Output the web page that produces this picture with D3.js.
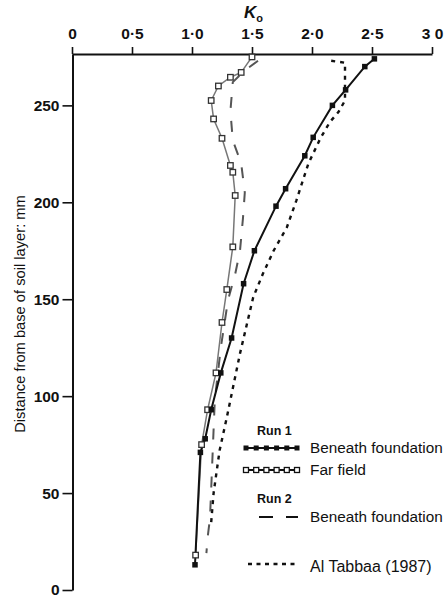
<!DOCTYPE html>
<html>
<head>
<meta charset="utf-8">
<script src="https://cdn.jsdelivr.net/npm/d3@7"></script>
<style>
  body { margin: 0; background: #fff; }
  svg { display: block; }
  text { font-family: "Liberation Sans", Arial, Helvetica, sans-serif; fill: #111; }
</style>
</head>
<body>
<svg id="chart" width="447" height="613"></svg>
<script>
// K0 axis (top) and depth axis (left)
const kTicks = [0, 0.5, 1, 1.5, 2, 2.5, 3];
const kTickLabels = ["0", "0·5", "1·0", "1·5", "2·0", "2·5", "3 0"];
const depthTicks = [0, 50, 100, 150, 200, 250];

// Run 1, beneath foundation
const run1BeneathK  = [2.52, 2.44, 2.28, 2.17, 2.01, 1.94, 1.78, 1.70, 1.52, 1.43, 1.33, 1.24, 1.16, 1.11, 1.07, 1.025];
const run1BeneathMm = [274, 270, 258, 250, 233.5, 224, 207, 198, 175, 158, 130, 112, 93, 78, 71, 13];

// Run 1, far field
const run1FarK  = [1.50, 1.41, 1.32, 1.22, 1.16, 1.18, 1.25, 1.32, 1.34, 1.36, 1.34, 1.29, 1.25, 1.20, 1.13, 1.08, 1.03];
const run1FarMm = [275, 267, 264.5, 260, 252.5, 243, 233, 219, 215.5, 203.5, 177, 155, 138, 112, 93, 75, 18];

// Run 2, beneath foundation
const run2BeneathK  = [1.55, 1.44, 1.34, 1.32, 1.34, 1.41, 1.44, 1.425, 1.40, 1.36, 1.30, 1.24, 1.19, 1.15, 1.13, 1.12];
const run2BeneathMm = [273, 268, 262, 247, 232, 220, 205, 192, 175, 163, 149.5, 125, 98, 37, 27, 19];

// Al Tabbaa (1987)
const alTabbaaK  = [2.16, 2.275, 2.275, 2.22, 2.15, 2.07, 1.97, 1.87, 1.79, 1.68, 1.59, 1.51, 1.40, 1.29, 1.23, 1.18, 1.16];
const alTabbaaMm = [273, 272, 252.5, 246.5, 241.5, 233, 220, 201, 187, 175, 163, 151, 122, 89, 72, 50, 35];

const svg = d3.select("#chart");
const x = d3.scaleLinear().domain([0, 3]).range([72, 432]);
const y = d3.scaleLinear().domain([0, 276.5]).range([590, 54]);

const pts = (ks, ms) => d3.zip(ks, ms).map(([k, mm]) => ({ k, mm }));
const line = d3.line().x(d => x(d.k)).y(d => y(d.mm));

// Axes
const xAxis = svg.append("g")
  .attr("transform", `translate(0,${y(276.5)})`)
  .call(d3.axisTop(x).tickValues(kTicks).tickFormat((d, i) => kTickLabels[i])
    .tickSize(7).tickSizeOuter(0).tickPadding(8));
const yAxis = svg.append("g")
  .attr("transform", `translate(${x(0) + 0.5},0)`)
  .call(d3.axisLeft(y).tickValues(depthTicks).tickSize(10).tickSizeOuter(0).tickPadding(3));

[xAxis, yAxis].forEach(g => {
  g.select(".domain").attr("stroke", "#111").attr("stroke-width", 2);
  g.selectAll(".tick line").attr("stroke", "#111").attr("stroke-width", 1.6);
  g.selectAll(".tick text")
    .attr("font-family", "'Liberation Sans', Arial, sans-serif")
    .attr("font-size", 15.5).attr("font-weight", "bold").attr("fill", "#111");
});

// Axis titles
const kTitle = svg.append("text").attr("x", 244).attr("y", 18);
kTitle.append("tspan").text("K").attr("font-style", "italic").attr("font-weight", "bold").attr("font-size", 17);
kTitle.append("tspan").text("o").attr("font-size", 11).attr("font-weight", "bold").attr("dy", 4);

svg.append("text")
  .attr("transform", "translate(25,314) rotate(-90)")
  .attr("text-anchor", "middle")
  .attr("font-size", 14.7)
  .text("Distance from base of soil layer: mm");

// Series
const plot = svg.append("g");

plot.append("path").datum(pts(alTabbaaK, alTabbaaMm))
  .attr("d", line).attr("fill", "none").attr("stroke", "#111")
  .attr("stroke-width", 2.4).attr("stroke-dasharray", "4,5");

plot.append("path").datum(pts(run2BeneathK, run2BeneathMm))
  .attr("d", line).attr("fill", "none").attr("stroke", "#555")
  .attr("stroke-width", 2).attr("stroke-dasharray", "11,13");

plot.append("path").datum(pts(run1FarK, run1FarMm))
  .attr("d", line).attr("fill", "none").attr("stroke", "#777").attr("stroke-width", 1.5);

plot.append("path").datum(pts(run1BeneathK, run1BeneathMm))
  .attr("d", line).attr("fill", "none").attr("stroke", "#111").attr("stroke-width", 2);

const ms = 5.5;
plot.selectAll(".far-mark").data(pts(run1FarK, run1FarMm)).join("rect")
  .attr("class", "far-mark")
  .attr("x", d => x(d.k) - ms / 2).attr("y", d => y(d.mm) - ms / 2)
  .attr("width", ms).attr("height", ms)
  .attr("fill", "#fff").attr("stroke", "#333").attr("stroke-width", 1.3);

plot.selectAll(".ben-mark").data(pts(run1BeneathK, run1BeneathMm)).join("rect")
  .attr("class", "ben-mark")
  .attr("x", d => x(d.k) - ms / 2).attr("y", d => y(d.mm) - ms / 2)
  .attr("width", ms).attr("height", ms)
  .attr("fill", "#111");

// Legend
const lg = svg.append("g");
const sampleX0 = 245, sampleX1 = 298, labelX = 310;
const sampleMarks = d3.range(6).map(i => sampleX0 + 1 + i * (sampleX1 - sampleX0 - 2) / 5);

lg.append("text").attr("x", 257).attr("y", 435).attr("font-size", 12.5).attr("font-weight", "bold").text("Run 1");

lg.append("line").attr("x1", sampleX0).attr("x2", sampleX1).attr("y1", 448).attr("y2", 448)
  .attr("stroke", "#111").attr("stroke-width", 2);
lg.selectAll(".lb").data(sampleMarks).join("rect").attr("class", "lb")
  .attr("x", d => d - 2.5).attr("y", 445.5).attr("width", 5).attr("height", 5).attr("fill", "#111");
lg.append("text").attr("x", labelX).attr("y", 453).attr("font-size", 15.3).text("Beneath foundation");

lg.append("line").attr("x1", sampleX0).attr("x2", sampleX1).attr("y1", 470).attr("y2", 470)
  .attr("stroke", "#111").attr("stroke-width", 2);
lg.selectAll(".lf").data(sampleMarks).join("rect").attr("class", "lf")
  .attr("x", d => d - 2.5).attr("y", 467.5).attr("width", 5).attr("height", 5)
  .attr("fill", "#fff").attr("stroke", "#111").attr("stroke-width", 1.3);
lg.append("text").attr("x", labelX).attr("y", 475).attr("font-size", 15.5).text("Far field");

lg.append("text").attr("x", 257).attr("y", 503).attr("font-size", 12.5).attr("font-weight", "bold").text("Run 2");

lg.append("line").attr("x1", 259).attr("x2", sampleX1).attr("y1", 517).attr("y2", 517)
  .attr("stroke", "#111").attr("stroke-width", 2).attr("stroke-dasharray", "14,13");
lg.append("text").attr("x", labelX).attr("y", 522).attr("font-size", 15.3).text("Beneath foundation");

lg.append("line").attr("x1", 248).attr("x2", sampleX1).attr("y1", 564).attr("y2", 564)
  .attr("stroke", "#111").attr("stroke-width", 2.4).attr("stroke-dasharray", "4,4.5");
lg.append("text").attr("x", labelX).attr("y", 572).attr("font-size", 16).text("Al Tabbaa (1987)");
</script>
</body>
</html>
